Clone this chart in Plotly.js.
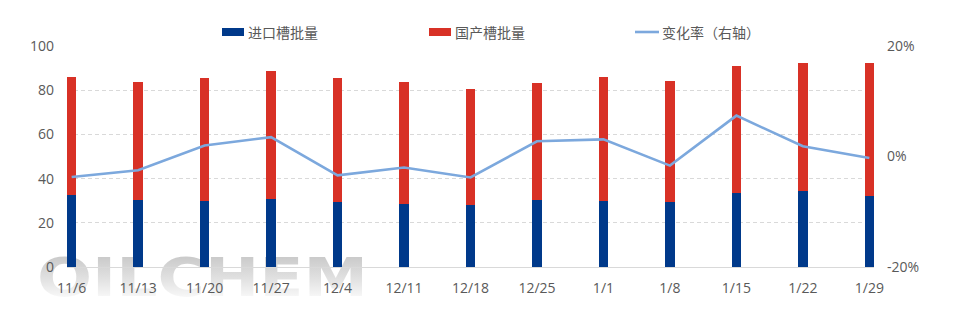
<!DOCTYPE html>
<html>
<head>
<meta charset="utf-8">
<script src="https://cdn.plot.ly/plotly-3.0.1.min.js"></script>
<style>
  html, body { margin: 0; padding: 0; background: #ffffff; }
  #wrap { position: relative; width: 974px; height: 325px; }
  #wm {
    position: absolute; left: 37px; top: 251px; width: 331px; height: 52px;
    font-family: "DejaVu Sans", "Liberation Sans", Arial, sans-serif; font-weight: bold;
    font-size: 54px; line-height: 54px; white-space: nowrap;
    transform-origin: left top;
    background: linear-gradient(to bottom, #c4c4c4 0%, #e2e2e2 55%, #ffffff 100%);
    -webkit-background-clip: text; background-clip: text; color: transparent;
    z-index: 0;
  }
  #chart { position: absolute; left: 0; top: 0; width: 974px; height: 325px; z-index: 1; }
</style>
</head>
<body>
<div id="wrap">
  <div id="wm"><span id="wmtext">OILCHEM</span></div>
  <div id="chart"></div>
</div>
<script>
// ---- data ----
const categories = ["11/6","11/13","11/20","11/27","12/4","12/11","12/18","12/25","1/1","1/8","1/15","1/22","1/29"];
const importBatch = [32.8, 30.2, 29.7, 30.6, 29.3, 28.5, 27.9, 30.2, 29.7, 29.6, 33.3, 34.4, 32.0];
const totalBatch  = [86.0, 83.9, 85.5, 88.6, 85.5, 83.9, 80.7, 83.1, 85.8, 84.3, 90.8, 92.5, 92.5];
const domesticBatch = totalBatch.map((t, i) => +(t - importBatch[i]).toFixed(1));
const changeRate = [-0.037, -0.025, 0.020, 0.035, -0.034, -0.020, -0.038, 0.0275, 0.031, -0.0165, 0.074, 0.0185, -0.0027];
const leftTicks = [0, 20, 40, 60, 80, 100];
const rightTicks = [-0.2, 0, 0.2];
const rightTickText = ["-20%", "0%", "20%"];
const seriesNames = ["进口槽批量", "国产槽批量", "变化率（右轴）"];

// ---- style ----
const BLUE = "#00398a", RED = "#d83126", LINE = "#7ca8dd", TXT = "#595959";
const FONT = "Open Sans, Noto Sans CJK SC, sans-serif";
const idx = categories.map((c, i) => i);

// stretch watermark to its width
(function () {
  const t = document.getElementById("wmtext");
  const w = t.getBoundingClientRect().width;
  document.getElementById("wm").style.transform = "scaleX(" + (331 / w) + ")";
})();

const traces = [
  { type: "bar", name: seriesNames[0], x: idx, y: importBatch, marker: { color: BLUE }, width: 0.14 },
  { type: "bar", name: seriesNames[1], x: idx, y: domesticBatch, marker: { color: RED }, width: 0.14 },
  { type: "scatter", mode: "lines", name: seriesNames[2], x: idx, y: changeRate, yaxis: "y2",
    line: { color: LINE, width: 2.6 } }
];

// custom legend (paper coords derived from plot box)
const L = 67, R = 874, T = 46, B = 267;
const px = v => (v - L) / (R - L);
const py = v => (B - v) / (B - T);
const shapes = [
  { type: "rect", xref: "paper", yref: "paper", x0: px(222), x1: px(244), y0: py(36), y1: py(28), fillcolor: BLUE, line: { width: 0 } },
  { type: "rect", xref: "paper", yref: "paper", x0: px(429), x1: px(451), y0: py(36), y1: py(28), fillcolor: RED, line: { width: 0 } },
  { type: "line", xref: "paper", yref: "paper", x0: px(635), x1: px(659), y0: py(32), y1: py(32), line: { color: LINE, width: 2.6 } }
];
const annotations = [
  { xref: "paper", yref: "paper", x: px(246), y: py(32), text: seriesNames[0], xanchor: "left", yanchor: "middle", showarrow: false, font: { family: FONT, size: 14, color: TXT } },
  { xref: "paper", yref: "paper", x: px(453), y: py(32), text: seriesNames[1], xanchor: "left", yanchor: "middle", showarrow: false, font: { family: FONT, size: 14, color: TXT } },
  { xref: "paper", yref: "paper", x: px(660), y: py(32), text: seriesNames[2], xanchor: "left", yanchor: "middle", showarrow: false, font: { family: FONT, size: 14, color: TXT } }
];

const layout = {
  width: 974, height: 325,
  margin: { l: L, r: 974 - R, t: T, b: 325 - B, pad: 0 },
  paper_bgcolor: "rgba(0,0,0,0)", plot_bgcolor: "rgba(0,0,0,0)",
  barmode: "stack",
  showlegend: false,
  font: { family: FONT, size: 14, color: TXT },
  xaxis: {
    range: [-0.07, 12.07], tickmode: "array", tickvals: idx, ticktext: categories,
    showgrid: false, zeroline: false, showline: true, linecolor: "#d9d9d9", linewidth: 1,
    ticks: "", ticklabelstandoff: 8, tickfont: { family: FONT, size: 14, color: TXT }, fixedrange: true
  },
  yaxis: {
    range: [0, 100], tickmode: "array", tickvals: leftTicks,
    showgrid: true, gridcolor: "#d9d9d9", griddash: "4px,3px", gridwidth: 1,
    zeroline: false, showline: false, ticks: "", ticklabelstandoff: 12,
    tickfont: { family: FONT, size: 14, color: TXT }, fixedrange: true
  },
  yaxis2: {
    overlaying: "y", side: "right", range: [-0.2, 0.2], tickmode: "array",
    tickvals: rightTicks, ticktext: rightTickText, showgrid: false, zeroline: false,
    showline: false, ticks: "", ticklabelstandoff: 12,
    tickfont: { family: FONT, size: 14, color: TXT }, fixedrange: true
  },
  shapes: shapes,
  annotations: annotations
};

Plotly.newPlot("chart", traces, layout, { displayModeBar: false, staticPlot: true });
</script>
</body>
</html>
